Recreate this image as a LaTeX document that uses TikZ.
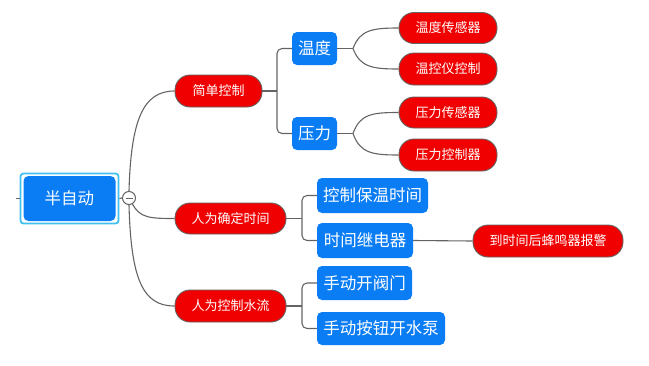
\documentclass[tikz,border=0pt]{standalone}
\usepackage{fontspec}
\newfontfamily\cjk{Noto Sans CJK SC}
\definecolor{nblue}{RGB}{10,125,245}
\definecolor{nred}{RGB}{240,0,0}
\definecolor{ncyan}{RGB}{64,192,240}
\definecolor{lgray}{RGB}{100,100,100}
\tikzset{
  redbox/.style={draw=lgray, line width=0.9pt, fill=nred, text=white, rounded corners=15pt, inner sep=0pt, font=\cjk\fontsize{13}{15}\selectfont},
  bluebox/.style={fill=nblue, text=white, rounded corners=5pt, inner sep=0pt, font=\cjk\fontsize{16.5}{18}\selectfont},
  link/.style={draw=lgray, line width=1.1pt},
}
\begin{document}
\begin{tikzpicture}[x=1pt,y=-1pt]
\useasboundingbox (0,0) rectangle (649,365);
% root
\node[draw=ncyan, line width=1.8pt, fill=white, rounded corners=3pt, minimum width=98pt, minimum height=50pt, inner sep=0pt] (rootout) at (69.5,198.5) {};
\node[bluebox, minimum width=92pt, minimum height=45pt] (root) at (69.5,198.5) {半自动};
\coordinate (lstub) at (16,198.5);
\draw[link] (lstub) -- (rootout.west);
\node[circle, draw=lgray, line width=1pt, fill=white, minimum size=13pt, inner sep=0pt] (circ) at (129,198) {};
\draw[link] (rootout.east) -- (circ.west);
\draw[lgray, line width=1pt] ([xshift=-3.5pt]circ.center) -- ([xshift=3.5pt]circ.center);
% level 1
\node[redbox, minimum width=87pt, minimum height=32pt] (jd) at (218.5,91) {简单控制};
\node[redbox, minimum width=111pt, minimum height=31pt] (sj) at (230.5,218.5) {人为确定时间};
\node[redbox, minimum width=111pt, minimum height=32pt] (sl) at (230.5,306) {人为控制水流};
\draw[link] (circ.north) .. controls (131,120) and (143,91) .. (jd.west);
\draw[link] (circ.south) .. controls (131,280) and (143,306) .. (sl.west);
\draw[link] (circ.-60) .. controls (140,218) and (150,218.5) .. (sj.west);
% level 2
\node[bluebox, minimum width=45pt, minimum height=33pt] (wd) at (314.5,48.5) {温度};
\node[bluebox, minimum width=45pt, minimum height=33pt] (yl) at (314.5,133.5) {压力};
\node[bluebox, minimum width=111pt, minimum height=35pt] (bw) at (372.5,195.5) {控制保温时间};
\node[bluebox, minimum width=96pt, minimum height=35pt] (jdq) at (365,240.5) {时间继电器};
\node[bluebox, minimum width=95pt, minimum height=34pt] (fm) at (364.5,283) {手动开阀门};
\node[bluebox, minimum width=128pt, minimum height=33pt] (sb) at (381,328.5) {手动按钮开水泵};
\coordinate (b1) at (277,91);
\coordinate (b2) at (302,218.5);
\coordinate (b3) at (302,306);
\draw[link] (jd.east) -- (b1);
\draw[link, rounded corners=5pt] (b1) |- (wd.west);
\draw[link, rounded corners=5pt] (b1) |- (yl.west);
\draw[link] (sj.east) -- (b2);
\draw[link, rounded corners=5pt] (b2) |- (bw.west);
\draw[link, rounded corners=5pt] (b2) |- (jdq.west);
\draw[link] (sl.east) -- (b3);
\draw[link, rounded corners=5pt] (b3) |- (fm.west);
\draw[link, rounded corners=5pt] (b3) |- (sb.west);
% level 3
\node[redbox, minimum width=98pt, minimum height=31pt] (wc) at (448,28) {温度传感器};
\node[redbox, minimum width=98pt, minimum height=32pt] (wk) at (448,69) {温控仪控制};
\node[redbox, minimum width=98pt, minimum height=31pt] (yc) at (448,112.5) {压力传感器};
\node[redbox, minimum width=98pt, minimum height=32pt] (yk) at (448,155) {压力控制器};
\node[redbox, minimum width=150pt, minimum height=32pt] (bj) at (548,241) {到时间后蜂鸣器报警};
\coordinate (c1) at (353,48.5);
\coordinate (c2) at (353,133.5);
\draw[link] (wd.east) -- (c1);
\draw[link] (c1) .. controls (360,30) and (372,28) .. (wc.west);
\draw[link] (c1) .. controls (360,67) and (372,69) .. (wk.west);
\draw[link] (yl.east) -- (c2);
\draw[link] (c2) .. controls (360,114) and (372,112.5) .. (yc.west);
\draw[link] (c2) .. controls (360,153) and (372,155) .. (yk.west);
\draw[link] (jdq.east) -- (bj.west);
\end{tikzpicture}
\end{document}
